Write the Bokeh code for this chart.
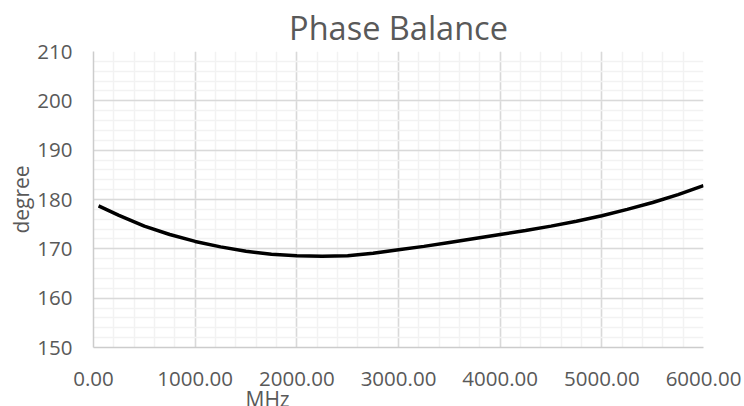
from bokeh.plotting import figure
from bokeh.models import Range1d, FixedTicker, Title
from bokeh.embed import file_html
from bokeh.resources import INLINE

freq_mhz = [50, 250, 500, 750, 1000, 1250, 1500, 1750, 2000, 2250, 2500, 2750, 3000,
            3250, 3500, 3750, 4000, 4250, 4500, 4750, 5000, 5250, 5500, 5750, 6000]
phase_deg = [178.7, 176.8, 174.6, 172.9, 171.5, 170.4, 169.5, 168.9, 168.6, 168.5, 168.6, 169.1, 169.8,
             170.5, 171.3, 172.1, 172.9, 173.7, 174.6, 175.6, 176.7, 178.0, 179.4, 181.0, 182.8]

x_ticks = [0, 1000, 2000, 3000, 4000, 5000, 6000]
x_tick_labels = ["0.00", "1000.00", "2000.00", "3000.00", "4000.00", "5000.00", "6000.00"]
y_ticks = [150, 160, 170, 180, 190, 200, 210]
y_tick_labels = ["150", "160", "170", "180", "190", "200", "210"]

title_text = "Phase Balance"
x_title = "MHz"
y_title = "degree"

FONT = "Open Sans"
TXT = "#595959"

p = figure(width=744, height=406, output_backend="svg", toolbar_location=None,
           x_range=Range1d(0, 6000), y_range=Range1d(150, 210),
           min_border_left=93, min_border_right=41, min_border_top=51, min_border_bottom=57)
p.outline_line_color = None
p.background_fill_color = "white"
p.border_fill_color = "white"

p.title = Title(text=title_text, align="center", text_font=FONT, text_font_size="32.5px",
                text_color=TXT, text_font_style="normal", standoff=4)

p.xaxis.ticker = FixedTicker(ticks=x_ticks, minor_ticks=list(range(0, 6001, 200)))
p.yaxis.ticker = FixedTicker(ticks=y_ticks, minor_ticks=list(range(150, 211, 2)))
p.xaxis.major_label_overrides = dict(zip(x_ticks, x_tick_labels))
p.yaxis.major_label_overrides = dict(zip(y_ticks, y_tick_labels))

for ax in (p.xaxis, p.yaxis):
    ax.axis_line_color = "#cccccc"
    ax.axis_line_width = 1.5
    ax.major_tick_line_color = None
    ax.minor_tick_line_color = None
    ax.major_label_text_font = FONT
    ax.major_label_text_font_size = "20.5px"
    ax.major_label_text_color = TXT
p.xaxis.major_label_standoff = 18
p.yaxis.major_label_standoff = 15

p.yaxis.axis_label = y_title
p.yaxis.axis_label_text_font = FONT
p.yaxis.axis_label_text_font_size = "21px"
p.yaxis.axis_label_text_font_style = "normal"
p.yaxis.axis_label_text_color = TXT
p.yaxis.axis_label_standoff = -1

p.add_layout(Title(text=x_title, align="left", offset=152, text_font=FONT, text_font_size="21px",
                   text_color=TXT, text_font_style="normal", standoff=-12), "below")

p.grid.grid_line_color = "#d9d9d9"
p.grid.grid_line_width = 1.5
p.grid.minor_grid_line_color = "#f2f2f2"
p.grid.minor_grid_line_width = 1.5

p.line(freq_mhz, phase_deg, line_color="black", line_width=3.5)

open("out.html", "w").write(file_html(p, INLINE))
